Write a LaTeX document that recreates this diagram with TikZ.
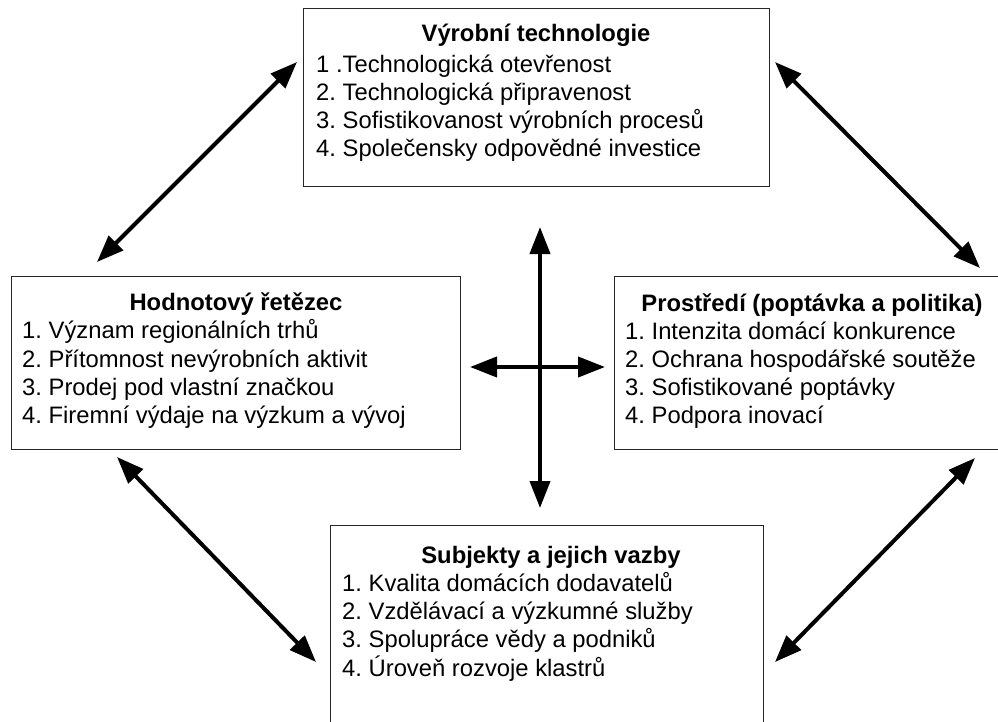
\documentclass[tikz,border=0pt]{standalone}
\usepackage{fontspec}
\setmainfont{Liberation Sans}
\usetikzlibrary{arrows.meta}
\frenchspacing
\begin{document}
\begin{tikzpicture}[x=1pt,y=-1pt,
  boxn/.style={draw=black!85,line width=1.3pt,rectangle,inner sep=0pt,anchor=north west},
  ttl/.style={anchor=base,inner sep=0pt,font=\fontsize{23.8}{28}\selectfont\bfseries},
  itm/.style={anchor=base west,inner sep=0pt,font=\fontsize{23.8}{28}\selectfont},
  dbl/.style={line width=4pt,{Triangle[length=27pt,width=20pt]}-{Triangle[length=27pt,width=20pt]}}]
\useasboundingbox (0,0) rectangle (998,722);
\clip (0,0) rectangle (998,722);
\fill[white] (0,0) rectangle (998,722);
% boxes
\node[boxn,minimum width=466pt,minimum height=178pt] (top) at (303,8) {};
\node[boxn,minimum width=449pt,minimum height=173pt] (left) at (11,276) {};
\node[boxn,minimum width=400pt,minimum height=173pt] (right) at (614,276) {};
\node[boxn,minimum width=433pt,minimum height=210pt] (bottom) at (330,525) {};
% top text
\node[ttl] (t0) at (536,42) {Výrobní technologie};
\node[itm] (t1) at (316,73) {1 .Technologická otevřenost};
\node[itm] (t2) at (316,101) {2. Technologická připravenost};
\node[itm] (t3) at (316,129) {3. Sofistikovanost výrobních procesů};
\node[itm] (t4) at (316,157) {4. Společensky odpovědné investice};
% left text
\node[ttl] (l0) at (236,310) {Hodnotový řetězec};
\node[itm] (l1) at (22,338) {1. Význam regionálních trhů};
\node[itm] (l2) at (22,367) {2. Přítomnost nevýrobních aktivit};
\node[itm] (l3) at (22,395) {3. Prodej pod vlastní značkou};
\node[itm] (l4) at (22,423) {4. Firemní výdaje na výzkum a vývoj};
% right text
\node[ttl] (r0) at (812,311) {Prostředí (poptávka a politika)};
\node[itm] (r1) at (625,339) {1. Intenzita domácí konkurence};
\node[itm] (r2) at (625,367) {2. Ochrana hospodářské soutěže};
\node[itm] (r3) at (625,395) {3. Sofistikované poptávky};
\node[itm] (r4) at (625,423) {4. Podpora inovací};
% bottom text
\node[ttl] (b0) at (551,563) {Subjekty a jejich vazby};
\node[itm] (b1) at (342,591) {1. Kvalita domácích dodavatelů};
\node[itm] (b2) at (342,619) {2. Vzdělávací a výzkumné služby};
\node[itm] (b3) at (342,647) {3. Spolupráce vědy a podniků};
\node[itm] (b4) at (342,676) {4. Úroveň rozvoje klastrů};
% arrow end points
\coordinate (tlA) at (97,262);
\coordinate (tlB) at (297,62);
\coordinate (trA) at (775,62);
\coordinate (trB) at (980,268);
\coordinate (blA) at (117,457);
\coordinate (blB) at (316,662);
\coordinate (brA) at (975,458);
\coordinate (brB) at (775,662);
\coordinate (vT) at (540,227);
\coordinate (vB) at (540,508);
\coordinate (hL) at (470,367);
\coordinate (hR) at (605,367);
% arrows
\draw[dbl] (tlA) -- (tlB);
\draw[dbl] (trA) -- (trB);
\draw[dbl] (blA) -- (blB);
\draw[dbl] (brA) -- (brB);
\draw[dbl] (vT) -- (vB);
\draw[dbl] (hL) -- (hR);
\end{tikzpicture}
\end{document}
